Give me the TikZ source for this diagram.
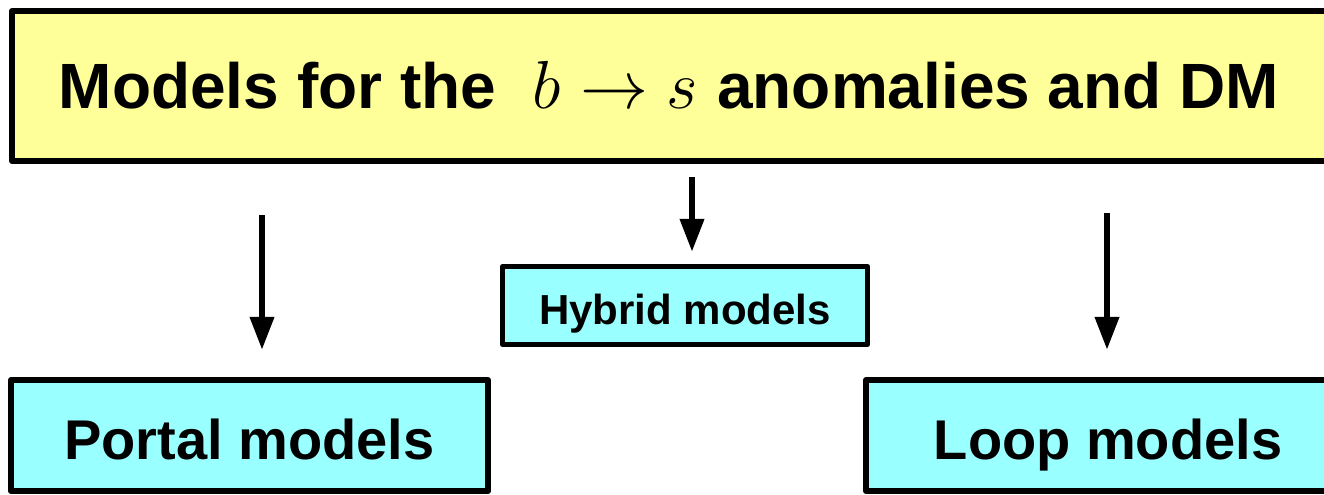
\RequirePackage{fix-cm}
\documentclass[tikz,border=0pt]{standalone}
\usepackage{fontspec}
\setmainfont{Liberation Sans}
\usetikzlibrary{arrows.meta}
\definecolor{boxyellow}{HTML}{FFFF99}
\definecolor{boxcyan}{HTML}{99FFFF}
\tikzset{
  box/.style={draw=black, line width=6bp, line join=round, outer sep=0pt, inner sep=0pt, text depth=0pt},
  topbox/.style={box, fill=boxyellow, font=\bfseries\fontsize{64bp}{77bp}\selectfont, text height=46bp},
  bigbox/.style={box, fill=boxcyan, font=\bfseries\fontsize{56bp}{67bp}\selectfont, text height=48bp},
  smallbox/.style={box, line width=5bp, fill=boxcyan, font=\bfseries\fontsize{42bp}{50bp}\selectfont, text height=38bp},
  arr/.style={line width=6.5bp, -{Triangle[width=23bp,length=33bp]}}
}
\begin{document}
\begin{tikzpicture}[x=1bp,y=-1bp]
\useasboundingbox (0,0) rectangle (1324,495);
\node[topbox, minimum width=1328bp, minimum height=150bp] (top) at (676,86) {Models for the {\fontsize{68bp}{80bp}\selectfont\ $b\to s$\ }anomalies and DM\hspace*{14bp}};
\node[bigbox, minimum width=477bp, minimum height=111bp] (portal) at (249.5,435.5) {Portal models};
\node[bigbox, minimum width=484bp, minimum height=111bp] (loop) at (1108,435.5) {Loop models};
\node[smallbox, minimum width=365bp, minimum height=78bp] (hybrid) at (685,305.5) {Hybrid models};
\draw[arr, shorten <=54bp, shorten >=30bp] ([xshift=12.5bp]portal.north |- top.south) -- ([xshift=12.5bp]portal.north);
\draw[arr, shorten <=16bp, shorten >=14.5bp] ([xshift=7bp]hybrid.north |- top.south) -- ([xshift=7bp]hybrid.north);
\draw[arr, shorten <=52bp, shorten >=30bp] ([xshift=-1bp]loop.north |- top.south) -- ([xshift=-1bp]loop.north);
\end{tikzpicture}
\end{document}
